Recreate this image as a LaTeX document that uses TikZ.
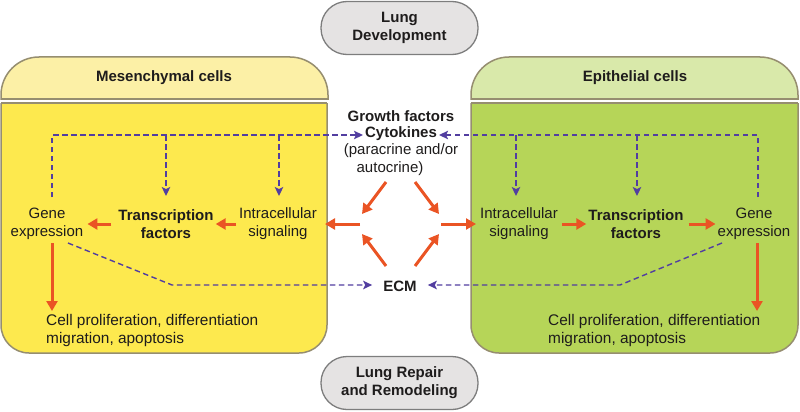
\documentclass[tikz,border=0pt]{standalone}
\usepackage{fontspec}
\setmainfont{Liberation Sans}
\usetikzlibrary{arrows.meta}
\definecolor{ybody}{RGB}{253,233,78}
\definecolor{yhead}{RGB}{252,240,166}
\definecolor{gbody}{RGB}{182,213,88}
\definecolor{ghead}{RGB}{217,233,170}
\definecolor{pborder}{RGB}{150,142,112}
\definecolor{gfill}{RGB}{229,227,227}
\definecolor{gborder}{RGB}{125,125,125}
\definecolor{rarr}{RGB}{234,84,36}
\definecolor{parr}{RGB}{82,62,160}
\definecolor{txt}{RGB}{30,28,28}
\begin{document}
\begin{tikzpicture}[x=1pt,y=-1pt,
  every node/.style={text=txt, font=\fontsize{15}{18}\selectfont, inner sep=2pt},
  bold/.style={font=\fontsize{15}{18}\selectfont\bfseries},
  lbl/.style={align=center},
  grey box/.style={draw=gborder, fill=gfill, line width=1.3pt, rounded corners=26pt,
     minimum width=157pt, minimum height=53pt, align=center, font=\fontsize{15}{18}\selectfont\bfseries},
  panel line/.style={draw=pborder, line width=1.5pt},
  rarrow/.style={draw=rarr, line width=3pt, -{Triangle[length=10pt,width=11pt]}},
  pdash/.style={draw=parr, line width=1.4pt, dash pattern=on 5.5pt off 3.5pt},
  parrow/.style={pdash, -{Stealth[length=9pt,width=8.5pt,inset=2pt]}}
]
\useasboundingbox (0,0) rectangle (800,412);

% ---- panels ----
\begin{scope}
  \clip (-5,50) rectangle (805,99);
  \filldraw[panel line, fill=yhead, rounded corners=38pt] (1,57) rectangle (328,160);
  \filldraw[panel line, fill=ghead, rounded corners=38pt] (471,57) rectangle (798,160);
\end{scope}
\draw[panel line] (1,99) -- (328,99);
\draw[panel line] (471,99) -- (798,99);
\begin{scope}
  \clip (-5,103) rectangle (805,360);
  \filldraw[panel line, fill=ybody, rounded corners=28pt] (1,50) rectangle (327,353);
  \filldraw[panel line, fill=gbody, rounded corners=28pt] (471,50) rectangle (798,353);
\end{scope}
\draw[panel line] (1,103) -- (327,103);
\draw[panel line] (471,103) -- (798,103);

\node[bold] (mesH) at (164,78) {Mesenchymal cells};
\node[bold] (epiH) at (635,78) {Epithelial cells};

% ---- grey boxes ----
\node[grey box] (dev) at (399.5,28) {Lung\\Development};
\node[grey box] (rep) at (399.5,383) {Lung Repair\\and Remodeling};

% ---- centre texts ----
\node[bold] (gf) at (401,116) {Growth factors};
\node[bold] (cyt) at (401,134) {Cytokines};
\node (para) at (401,151) {(paracrine and/or};
\node (auto) at (390,169) {autocrine)};
\node[bold] (ecm) at (400,286) {ECM};

% ---- left panel texts ----
\node[lbl] (geneL) at (47,224) {Gene\\expression};
\node[lbl, bold] (tfL) at (166,224) {Transcription\\factors};
\node[lbl] (isL) at (278,224) {Intracellular\\signaling};
\node[align=left, anchor=west, font=\fontsize{15.4}{18}\selectfont] (cellL) at (44,331) {Cell proliferation, differentiation\\migration, apoptosis};

% ---- right panel texts ----
\node[lbl] (isR) at (519,224) {Intracellular\\signaling};
\node[lbl, bold] (tfR) at (636,224) {Transcription\\factors};
\node[lbl] (geneR) at (754,224) {Gene\\expression};
\node[align=left, anchor=west, font=\fontsize{15.4}{18}\selectfont] (cellR) at (546,331) {Cell proliferation, differentiation\\migration, apoptosis};

% ---- coordinates ----
\coordinate (lt) at (52,135);
\coordinate (lg) at (52,197);
\coordinate (rt) at (758,135);
\coordinate (rg) at (758,197);
\coordinate (tfLe) at (166,196);
\coordinate (isLe) at (279,196);
\coordinate (isRe) at (516,196);
\coordinate (tfRe) at (637,196);

\coordinate (gLs) at (52,243);
\coordinate (gLe) at (52,311);
\coordinate (gRs) at (757,243);
\coordinate (gRe) at (757,311);

\coordinate (eL1) at (68,243);
\coordinate (eL2) at (172,285);
\coordinate (eR1) at (722,243);
\coordinate (eR2) at (620,285);

\coordinate (d1s) at (386,182); \coordinate (d1e) at (362,214);
\coordinate (d2s) at (415,182); \coordinate (d2e) at (439,214);
\coordinate (d3s) at (386,266); \coordinate (d3e) at (362,234);
\coordinate (d4s) at (415,266); \coordinate (d4e) at (439,234);
\coordinate (hls) at (360,224); \coordinate (hle) at (325,224);
\coordinate (hrs) at (441,224); \coordinate (hre) at (476,224);

% ---- purple dashed connectors ----
\draw[parrow] (lg) -- (lt) -- (lt -| cyt.west);
\draw[parrow] (tfLe |- lt) -- (tfLe);
\draw[parrow] (isLe |- lt) -- (isLe);
\draw[parrow] (rg) -- (rt) -- (rt -| cyt.east);
\draw[parrow] (isRe |- rt) -- (isRe);
\draw[parrow] (tfRe |- rt) -- (tfRe);
\draw[parrow, shorten >=9pt] (eL1) -- (eL2) -- (eL2 -| ecm.west);
\draw[parrow, shorten >=9pt] (eR1) -- (eR2) -- (eR2 -| ecm.east);

% ---- red arrows ----
\draw[rarrow, shorten <=1pt] (isL.west) -- (tfL.east);
\draw[rarrow, shorten <=5pt, shorten >=2pt] (tfL.west) -- (geneL.east);
\draw[rarrow, shorten <=2pt] (isR.east) -- (tfR.west);
\draw[rarrow, shorten <=3pt] (tfR.east) -- (geneR.west);
\draw[rarrow] (gLs) -- (gLe);
\draw[rarrow] (gRs) -- (gRe);
\draw[rarrow] (d1s) -- (d1e);
\draw[rarrow] (d2s) -- (d2e);
\draw[rarrow] (d3s) -- (d3e);
\draw[rarrow] (d4s) -- (d4e);
\draw[rarrow] (hls) -- (hle);
\draw[rarrow] (hrs) -- (hre);
\end{tikzpicture}
\end{document}
